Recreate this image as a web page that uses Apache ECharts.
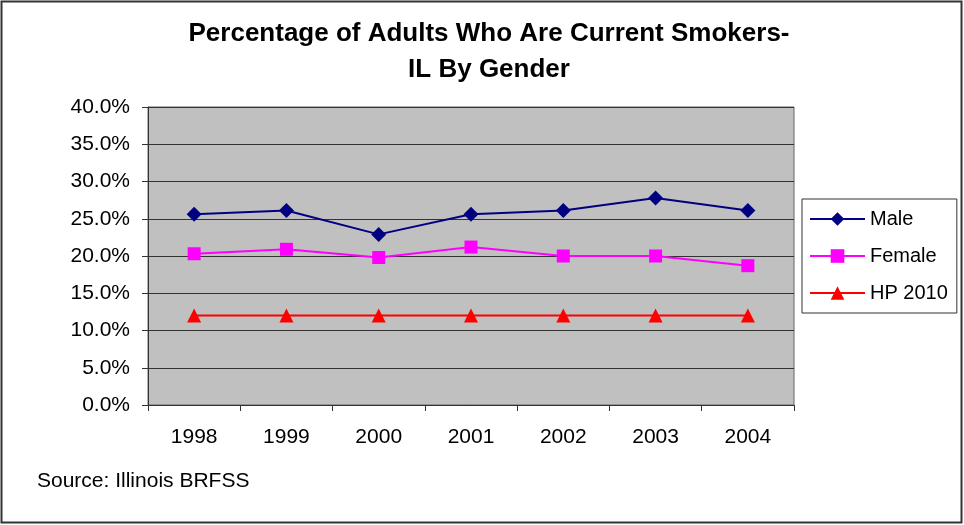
<!DOCTYPE html>
<html><head><meta charset="utf-8">
<script src="https://cdn.jsdelivr.net/npm/echarts@6/dist/echarts.min.js"></script>
<style>html,body{margin:0;padding:0;background:#fff}#c{width:964px;height:525px}</style>
</head><body><div id="c"></div>
<script>
var years = ['1998','1999','2000','2001','2002','2003','2004'];
var male = [25.6, 26.1, 22.9, 25.6, 26.1, 27.8, 26.1];
var female = [20.3, 20.9, 19.8, 21.2, 20.0, 20.0, 18.7];
var hp2010 = [12, 12, 12, 12, 12, 12, 12];
var titleText = 'Percentage of Adults Who Are Current Smokers-\nIL By Gender';
var sourceText = 'Source: Illinois BRFSS';

var F = '"Liberation Sans", Arial, sans-serif';
var chart = echarts.init(document.getElementById('c'));
chart.setOption({
  animation: false,
  backgroundColor: '#fff',
  title: {
    text: titleText, left: 484, top: 11, textAlign: 'center',
    textStyle: {fontFamily: F, fontWeight: 'bold', fontSize: 26, color: '#000', lineHeight: 36}
  },
  graphic: [
    {type: 'rect', shape: {x: 1.5, y: 1.5, width: 960, height: 521}, style: {fill: null, stroke: '#333', lineWidth: 2}, z: -1},
    {type: 'text', left: 37, top: 471, style: {text: sourceText, font: '21px "Liberation Sans", Arial, sans-serif', fill: '#000'}}
  ],
  legend: {
    orient: 'vertical', left: 802, top: 199,
    padding: [10, 9, 10, 7], itemGap: 17, itemWidth: 55, itemHeight: 17,
    borderColor: '#333', borderWidth: 1,
    textStyle: {fontFamily: F, fontSize: 20, color: '#000'},
    data: ['Male', 'Female', 'HP 2010']
  },
  grid: {left: 148, right: 170, top: 107, bottom: 120, show: true, backgroundColor: '#C0C0C0', borderColor: '#666', borderWidth: 1},
  xAxis: {
    type: 'category', data: years, boundaryGap: true,
    axisLine: {lineStyle: {color: '#333', width: 1}},
    axisTick: {show: true, length: 6, lineStyle: {color: '#333'}},
    axisLabel: {fontFamily: F, fontSize: 21, color: '#000', margin: 22}
  },
  yAxis: {
    type: 'value', min: 0, max: 40, interval: 5,
    axisLine: {show: true, lineStyle: {color: '#333'}},
    axisTick: {show: true, length: 6, inside: false, lineStyle: {color: '#333'}},
    axisLabel: {fontFamily: F, fontSize: 21, color: '#000', margin: 18, formatter: function(v){return v.toFixed(1)+'%';}},
    splitLine: {lineStyle: {color: '#333', width: 1}}
  },
  series: [
    {name: 'Male', type: 'line', data: male, color: '#000080', symbol: 'diamond', symbolSize: 15,
      lineStyle: {width: 2, color: '#000080'}, itemStyle: {color: '#000080'}},
    {name: 'Female', type: 'line', data: female, color: '#FF00FF', symbol: 'rect', symbolSize: 13,
      lineStyle: {width: 2, color: '#FF00FF'}, itemStyle: {color: '#FF00FF'}},
    {name: 'HP 2010', type: 'line', data: hp2010, color: '#FF0000', symbol: 'triangle', symbolSize: 14,
      lineStyle: {width: 2, color: '#FF0000'}, itemStyle: {color: '#FF0000'}}
  ]
});
</script></body></html>
